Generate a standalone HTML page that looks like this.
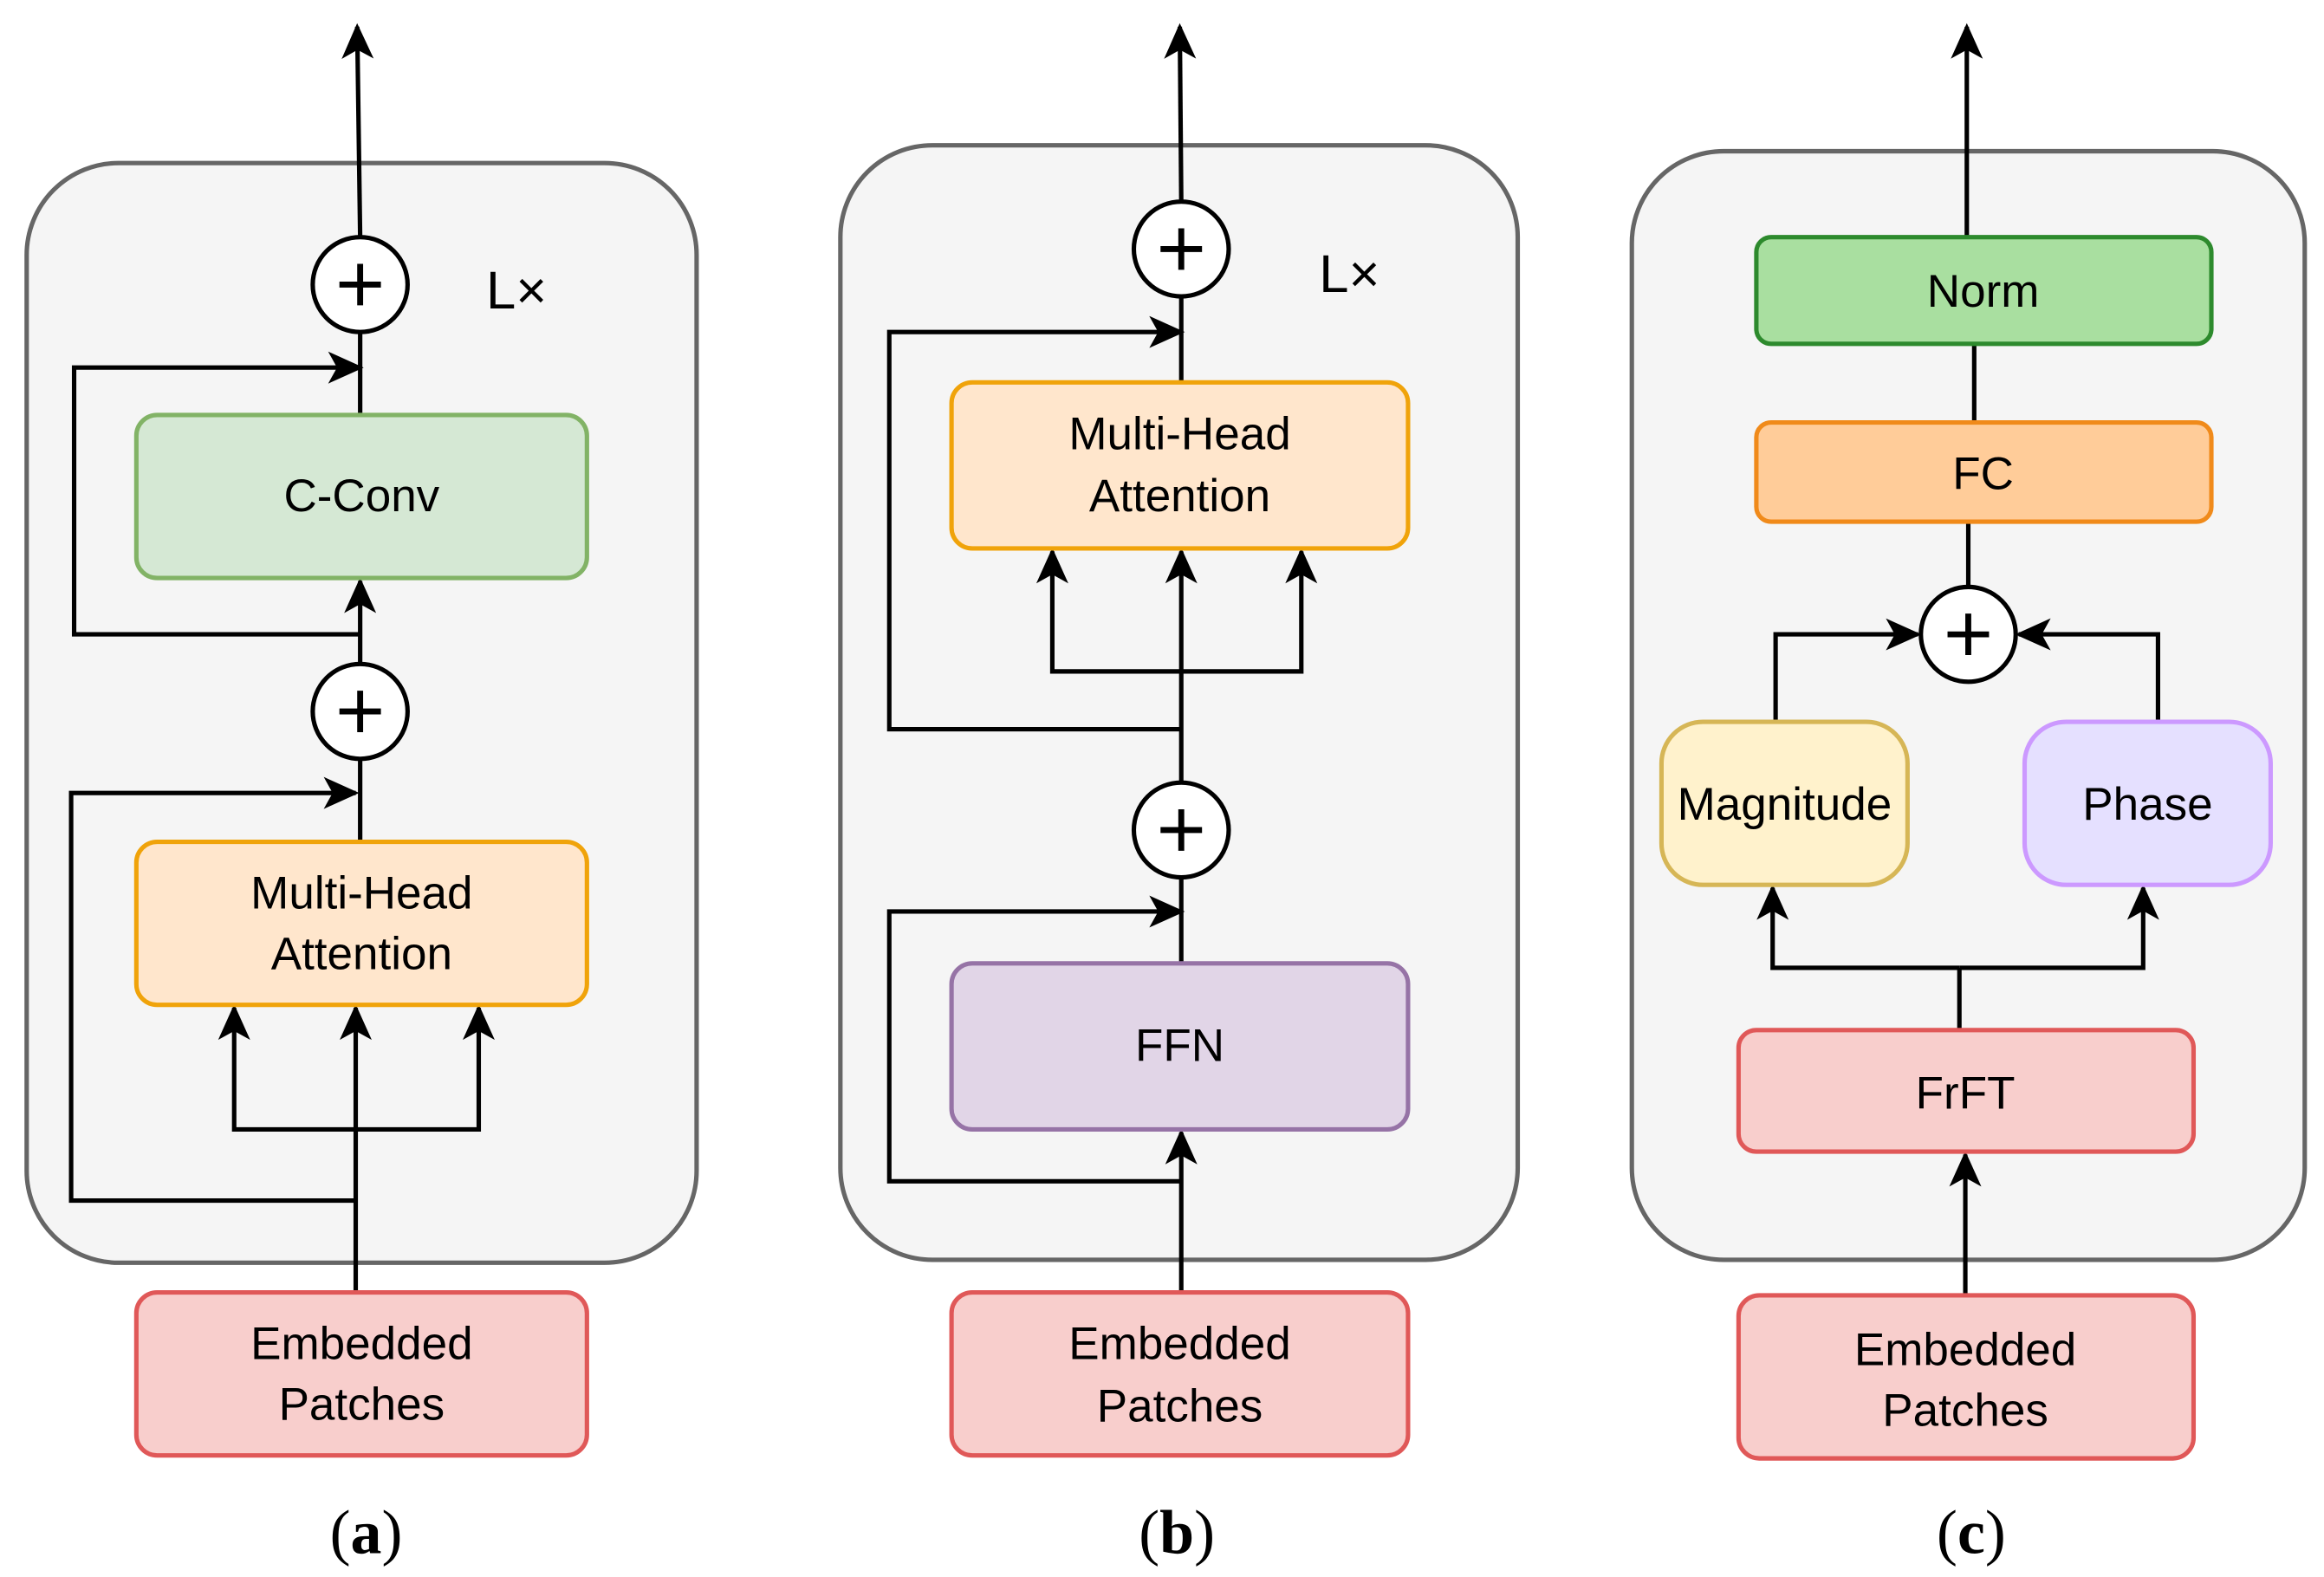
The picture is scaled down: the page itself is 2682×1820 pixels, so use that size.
<!DOCTYPE html>
<html><head><meta charset="utf-8"><style>
html,body{margin:0;padding:0;background:#fff;}
svg{display:block;}
text{font-family:"Liberation Sans",sans-serif;font-size:31px;fill:#000;}
.cap{font-family:"Liberation Serif",serif;font-size:42px;}
.lx{font-size:36px;}
</style></head><body>
<svg width="2682" height="1820" viewBox="0 0 1568 1064" xmlns="http://www.w3.org/2000/svg">
<defs>
<marker id="ar" viewBox="0 0 20 20" refX="18" refY="10" markerWidth="24" markerHeight="24" markerUnits="userSpaceOnUse" orient="auto">
<path d="M0,1 L20,10 L0,19 L5,10 Z" fill="#000"/>
</marker>
</defs>
<g stroke="#000" stroke-width="3" fill="none">
<rect x="18" y="110" width="452" height="742" rx="62" fill="#f5f5f5" stroke="#666"/>
<rect x="567" y="98" width="457" height="752" rx="62" fill="#f5f5f5" stroke="#666"/>
<rect x="1101" y="102" width="454" height="748" rx="62" fill="#f5f5f5" stroke="#666"/>
</g>
<g stroke="#000" stroke-width="3" fill="none">
<line x1="240" y1="872" x2="240" y2="680" marker-end="url(#ar)"/>
<polyline points="240,762 158,762 158,680" marker-end="url(#ar)"/>
<polyline points="240,762 323,762 323,680" marker-end="url(#ar)"/>
<polyline points="240,810 48,810 48,535 240,535" marker-end="url(#ar)"/>
<line x1="243" y1="568" x2="243" y2="512"/>
<line x1="243" y1="448" x2="243" y2="392" marker-end="url(#ar)"/>
<polyline points="243,428 50,428 50,248 243,248" marker-end="url(#ar)"/>
<line x1="243" y1="280" x2="243" y2="224"/>
<line x1="243" y1="160" x2="241" y2="18" marker-end="url(#ar)"/>
<line x1="797" y1="872" x2="797" y2="764" marker-end="url(#ar)"/>
<polyline points="797,797 600,797 600,615 797,615" marker-end="url(#ar)"/>
<line x1="797" y1="650" x2="797" y2="592"/>
<line x1="797" y1="528" x2="797" y2="372" marker-end="url(#ar)"/>
<polyline points="797,453 710,453 710,372" marker-end="url(#ar)"/>
<polyline points="797,453 878,453 878,372" marker-end="url(#ar)"/>
<polyline points="797,492 600,492 600,224 797,224" marker-end="url(#ar)"/>
<line x1="797" y1="258" x2="797" y2="200"/>
<line x1="797" y1="136" x2="796" y2="18" marker-end="url(#ar)"/>
<line x1="1326" y1="874" x2="1326" y2="779" marker-end="url(#ar)"/>
<line x1="1322" y1="695" x2="1322" y2="653"/>
<polyline points="1322,653 1196,653 1196,599" marker-end="url(#ar)"/>
<polyline points="1322,653 1446,653 1446,599" marker-end="url(#ar)"/>
<polyline points="1198,487 1198,428 1294,428" marker-end="url(#ar)"/>
<polyline points="1456,487 1456,428 1362,428" marker-end="url(#ar)"/>
<line x1="1328" y1="396" x2="1328" y2="352"/>
<line x1="1332" y1="285" x2="1332" y2="232"/>
<line x1="1327" y1="160" x2="1327" y2="18" marker-end="url(#ar)"/>
</g>
<g stroke-width="3">
<rect x="92" y="280" width="304" height="110" rx="14" fill="#d5e8d4" stroke="#82b366"/>
<rect x="92" y="568" width="304" height="110" rx="14" fill="#ffe6cc" stroke="#f0a30a"/>
<rect x="92" y="872" width="304" height="110" rx="14" fill="#f8cecc" stroke="#e05858"/>
<rect x="642" y="258" width="308" height="112" rx="14" fill="#ffe6cc" stroke="#f0a30a"/>
<rect x="642" y="650" width="308" height="112" rx="14" fill="#e1d5e7" stroke="#9673a6"/>
<rect x="642" y="872" width="308" height="110" rx="14" fill="#f8cecc" stroke="#e05858"/>
<rect x="1185" y="160" width="307" height="72" rx="10" fill="#a9dfa0" stroke="#2d8a2d"/>
<rect x="1185" y="285" width="307" height="67" rx="10" fill="#ffcc99" stroke="#f08a1a"/>
<rect x="1121" y="487" width="166" height="110" rx="28" fill="#fff2cc" stroke="#d6b656"/>
<rect x="1366" y="487" width="166" height="110" rx="28" fill="#e5e0ff" stroke="#cc99ff"/>
<rect x="1173" y="695" width="307" height="82" rx="12" fill="#f8cecc" stroke="#e05858"/>
<rect x="1173" y="874" width="307" height="110" rx="14" fill="#f8cecc" stroke="#e05858"/>
</g>
<g stroke="#000" stroke-width="3" fill="#fff">
<circle cx="243" cy="192" r="32"/><circle cx="243" cy="480" r="32"/>
<circle cx="797" cy="168" r="32"/><circle cx="797" cy="560" r="32"/>
<circle cx="1328" cy="428" r="32"/>
</g>
<g stroke="#000" stroke-width="4">
<path d="M243,178v28M229,192h28"/><path d="M243,466v28M229,480h28"/>
<path d="M797,154v28M783,168h28"/><path d="M797,546v28M783,560h28"/>
<path d="M1328,414v28M1314,428h28"/>
</g>
<g text-anchor="middle">
<text x="244" y="345">C-Conv</text>
<text x="244" y="613">Multi-Head</text><text x="244" y="654">Attention</text>
<text x="244" y="917">Embedded</text><text x="244" y="958">Patches</text>
<text x="796" y="303">Multi-Head</text><text x="796" y="345">Attention</text>
<text x="796" y="716">FFN</text>
<text x="796" y="917">Embedded</text><text x="796" y="959">Patches</text>
<text x="1338" y="207">Norm</text>
<text x="1338" y="330">FC</text>
<text x="1204" y="553">Magnitude</text>
<text x="1449" y="553">Phase</text>
<text x="1326" y="748">FrFT</text>
<text x="1326" y="921">Embedded</text><text x="1326" y="962">Patches</text>
</g>
<text class="lx" x="328" y="208">L×</text>
<text class="lx" x="890" y="197">L×</text>
<g text-anchor="middle">
<text class="cap" x="247" y="1048">(<tspan font-weight="bold">a</tspan>)</text>
<text class="cap" x="794" y="1048">(<tspan font-weight="bold">b</tspan>)</text>
<text class="cap" x="1330" y="1048">(<tspan font-weight="bold">c</tspan>)</text>
</g>
</svg>
</body></html>
